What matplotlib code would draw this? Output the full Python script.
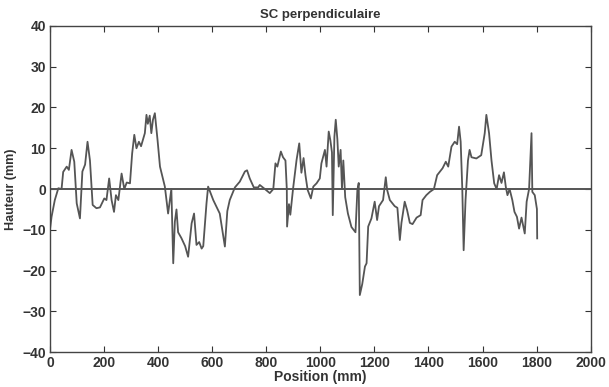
import matplotlib.pyplot as plt

plt.rcParams['font.family'] = ['Liberation Sans', 'DejaVu Sans']

# profile (position in mm, height in mm)
position = [0, 6, 18, 31, 43, 49, 62, 70, 80, 90, 99, 111, 120, 130, 139, 148,
            158, 172, 185, 201, 209, 219, 228, 237, 244, 253, 265, 275, 284, 296,
            304, 312, 320, 329, 337, 351, 357, 362, 369, 375, 381, 388, 398, 407,
            416, 425, 437, 449, 456, 462, 468, 474, 486, 500, 511, 524, 533, 542,
            552, 561, 567, 579, 585, 604, 628, 647, 656, 665, 684, 702, 721, 729,
            739, 754, 770, 776, 795, 813, 826, 834, 841, 854, 862, 871, 876, 877,
            884, 889, 899, 912, 922, 930, 938, 945, 953, 965, 974, 986, 998, 1004,
            1017, 1023, 1031, 1037, 1043, 1046, 1052, 1057, 1063, 1068, 1075, 1080,
            1085, 1092, 1102, 1115, 1130, 1137, 1142, 1146, 1155, 1165, 1171, 1177,
            1189, 1201, 1210, 1217, 1232, 1242, 1247, 1257, 1275, 1285, 1294, 1300,
            1312, 1321, 1331, 1341, 1356, 1371, 1378, 1392, 1405, 1420, 1432, 1452,
            1464, 1473, 1485, 1497, 1506, 1513, 1519, 1525, 1530, 1537, 1546, 1552,
            1559, 1577, 1595, 1608, 1614, 1624, 1633, 1643, 1652, 1661, 1670, 1679,
            1686, 1692, 1700, 1710, 1718, 1727, 1735, 1744, 1756, 1763, 1772, 1781,
            1784, 1793, 1801, 1802]
hauteur = [-10, -6.8, -2.7, 0.2, 0, 4.2, 5.5, 4.7, 9.6, 6.7, -3.5, -7.2, 4.3, 6, 11.6, 7,
           -3.9, -4.7, -4.5, -2.3, -2.7, 2.6, -2.7, -5.6, -1.5, -2.7, 3.8, 0, 1.6, 1.4,
           8.7, 13.3, 10, 11.6, 10.5, 13.7, 18.2, 16, 18, 13.7, 17, 18.6, 12, 5.5,
           3, 0.6, -6, 0, -18.2, -8, -5, -10.6, -12, -14, -16.6, -8.4, -6, -13.7,
           -13, -14.6, -14, -3.5, 0.6, -2.7, -6, -14.1, -5.4, -2.7, 0.4, 1.8, 4.3, 4.6,
           2.6, 0.4, 0.4, 1, 0, -1, 0, 6.3, 5.5, 9.2, 7.8, 7, 0, -9.2,
           -3.7, -6.3, 0, 7.1, 11.2, 4, 7.6, 3.4, -0.2, -2.3, 0.6, 1.4, 2.6, 6.3,
           9.6, 5.5, 14.1, 12, 9, -6.4, 12.8, 17, 12.2, 5.5, 9.6, 0,
           7, -2, -6, -9.3, -10.6, -0.2, 1.5, -26, -23.3, -19, -18.2, -9.2,
           -7.2, -3.1, -7.6, -4.2, -2.7, 2.9, -0.2, -2.7, -4.2, -4.6, -12.5, -8.3,
           -3.1, -5.2, -8.3, -8.6, -7, -6.4, -2.7, -1.5, -0.7, 0, 3.4, 5.1,
           6.7, 5.5, 10.4, 11.6, 11, 15.3, 11.6, 0, -15, -2.7, 7, 9.6,
           7.8, 7.5, 8.3, 13.7, 18.2, 13.7, 7, 1.4, 0, 3.4, 1.5, 4.1,
           0.5, -1.5, 0, -2.7, -5.6, -6.8, -9.7, -7, -10.9, -3.1, 0, 13.7,
           -0.7, -1.5, -4.9, -12.1]

zero_x = [0, 2000]
zero_y = [0, 0]

fig = plt.figure(figsize=(6.09, 3.87), dpi=100)
ax = fig.add_axes([0.082, 0.09, 0.888, 0.843])

ax.plot(position, hauteur, color='#555555', linewidth=1.3)
ax.plot(zero_x, zero_y, color='#555555', linewidth=1.4)

ax.set_xlim(0, 2000)
ax.set_ylim(-40, 40)
ax.set_xticks(range(0, 2001, 200))
ax.set_yticks(range(-40, 41, 10))

for s in ax.spines.values():
    s.set_color('#444444')
    s.set_linewidth(1.0)
ax.tick_params(direction='in', top=True, right=True, length=4,
               labelsize=10, colors='#333333', pad=3)
for lbl in ax.get_xticklabels() + ax.get_yticklabels():
    lbl.set_fontweight('bold')

ax.set_title('SC perpendiculaire', fontsize=9.5, fontweight='bold', color='#333333', pad=6)
ax.set_xlabel('Position (mm)', fontsize=10, fontweight='bold', color='#333333', labelpad=0)
ax.set_ylabel('Hauteur (mm)', fontsize=9, fontweight='bold', color='#333333')
ax.yaxis.set_label_coords(-0.06, 0.5)

fig.savefig('out.png', dpi=100)
